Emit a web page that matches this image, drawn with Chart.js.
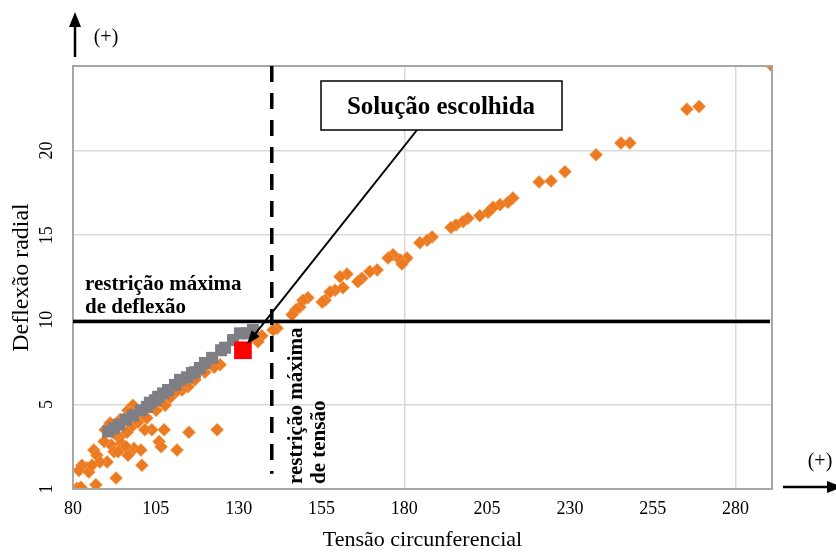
<!DOCTYPE html>
<html>
<head>
<meta charset="utf-8">
<script src="https://cdn.jsdelivr.net/npm/chart.js@4.4.1/dist/chart.umd.min.js"></script>
<style>
html, body { margin: 0; padding: 0; background: #fff; }
</style>
</head>
<body>
<canvas id="grafico" width="836" height="557"></canvas>
<script>
// soluções (losangos laranja)
var tensaoLaranja = [291, 265.3, 269, 245.4, 248.1, 237.9, 228.5, 220.7, 224.3, 212.8, 211.3, 208.9, 206.8, 205.3, 202.8, 199.2, 197.7, 195.6, 194.1, 188.4, 186.9, 184.7, 180.8, 178.7, 176.6, 175.1, 179.3, 171.8, 169.6, 167.2, 166.0, 162.7, 160.6, 159.1, 157.6, 161.5, 156.1, 155.2, 150.9, 149.4, 148.5, 147.3, 146.1, 141.6, 140.4, 137.0, 135.8,
    124.4, 122.6, 114.7, 112.9, 111.1, 107.8, 100.2, 100.8,
    123.5, 115.0, 111.4, 107.5, 103.8, 106.0, 106.6,
    97.5, 96.3, 93.9, 94.5, 91.5, 92.4, 89.4, 86.3, 87.2, 90.3, 84.2, 82.7, 81.8, 84.8, 81.2, 82.4, 86.9, 93.0, 100.8, 98.4, 100.5, 96.0, 92.4, 99.0, 94.2, 96.6, 98.1,
    89.7, 91.2, 95.7, 97.5, 99.6, 101.7, 93.6, 88.1, 85.7, 96.6, 102.3, 105.1, 109.3, 116.8, 119.8];
var deflexaoLaranja = [25, 22.45, 22.6, 20.45, 20.45, 19.75, 18.75, 18.15, 18.2, 17.2, 16.95, 16.8, 16.65, 16.35, 16.15, 16.0, 15.8, 15.6, 15.45, 14.9, 14.7, 14.55, 13.65, 13.55, 13.85, 13.65, 13.3, 12.95, 12.85, 12.45, 12.25, 12.7, 12.55, 11.75, 11.65, 11.9, 11.15, 11.05, 11.3, 11.15, 10.75, 10.6, 10.3, 9.5, 9.4, 9.05, 8.7,
    7.35, 7.2, 6.05, 5.85, 5.75, 4.95, 4.25, 4.35,
    3.5, 3.35, 2.3, 3.5, 3.5, 2.8, 2.5,
    3.65, 3.35, 3.05, 2.7, 2.6, 2.2, 2.8, 2.3, 2.0, 1.6, 1.25, 1.4, 1.1, 1.0, 0.05, 0.1, 0.25, 0.65, 1.4, 2.4, 2.3, 2.5, 3.3, 4.25, 4.1, 4.65, 4.95,
    3.5, 3.9, 4.2, 4.55, 3.95, 3.5, 2.2, 1.6, 1.4, 2.0, 4.2, 4.65, 5.4, 6.45, 6.9];

// soluções viáveis (quadrados cinza)
var tensaoCinza = [134.3, 132.5, 130.4, 128.3, 125.9, 124.7, 122.0, 119.8, 118.3, 116.8, 115.9, 114.4, 112.3, 110.8, 108.7, 107.2, 105.7, 104.8, 103.2, 102.3, 100.5, 98.1, 96.0, 93.9, 92.4, 90.6];
var deflexaoCinza = [9.4, 9.2, 9.2, 8.8, 8.35, 8.2, 7.75, 7.45, 7.15, 6.9, 6.85, 6.6, 6.45, 6.15, 5.85, 5.65, 5.45, 5.25, 5.1, 4.85, 4.65, 4.35, 4.1, 3.8, 3.6, 3.4];

// solução escolhida
var tensaoEscolhida = [131.3];
var deflexaoEscolhida = [8.2];

var xTicks = [80, 105, 130, 155, 180, 205, 230, 255, 280];
var xGrid = [180, 280];
var yTicks = [0, 5, 10, 15, 20];
var yTickLabels = ['1', '5', '10', '15', '20'];

var restricaoTensao = 140;
var restricaoDeflexao = 9.9;

function pares(xs, ys) {
    return xs.map(function (x, i) { return {x: x, y: ys[i]}; });
}

var serif = "'Liberation Serif', 'Times New Roman', serif";

function seta(ctx, x1, y1, x2, y2, comp, larg) {
    var a = Math.atan2(y2 - y1, x2 - x1);
    ctx.beginPath();
    ctx.moveTo(x1, y1);
    ctx.lineTo(x2 - Math.cos(a) * comp * 0.8, y2 - Math.sin(a) * comp * 0.8);
    ctx.stroke();
    ctx.beginPath();
    ctx.moveTo(x2, y2);
    ctx.lineTo(x2 - Math.cos(a) * comp - Math.sin(a) * larg / 2, y2 - Math.sin(a) * comp + Math.cos(a) * larg / 2);
    ctx.lineTo(x2 - Math.cos(a) * comp + Math.sin(a) * larg / 2, y2 - Math.sin(a) * comp - Math.cos(a) * larg / 2);
    ctx.closePath();
    ctx.fill();
}

var anotacoes = {
    id: 'anotacoes',
    afterDatasetsDraw: function (chart) {
        var ctx = chart.ctx;
        var area = chart.chartArea;
        var sx = chart.scales.x, sy = chart.scales.y;
        ctx.save();

        // moldura
        ctx.strokeStyle = '#a6a6a6';
        ctx.lineWidth = 2;
        ctx.strokeRect(area.left, area.top, area.right - area.left, area.bottom - area.top);

        // restrição de deflexão
        var yl = sy.getPixelForValue(restricaoDeflexao);
        ctx.strokeStyle = '#000';
        ctx.lineWidth = 3.5;
        ctx.beginPath();
        ctx.moveTo(area.left, yl);
        ctx.lineTo(area.right - 2, yl);
        ctx.stroke();

        // restrição de tensão
        var xl = sx.getPixelForValue(restricaoTensao);
        ctx.setLineDash([16, 11]);
        ctx.beginPath();
        ctx.moveTo(xl, area.top);
        ctx.lineTo(xl, sy.getPixelForValue(0.9));
        ctx.stroke();
        ctx.setLineDash([]);

        ctx.fillStyle = '#000';
        ctx.font = 'bold 21px ' + serif;
        ctx.textAlign = 'left';
        ctx.textBaseline = 'alphabetic';
        ctx.fillText('restrição máxima', area.left + 12, yl - 31);
        ctx.fillText('de deflexão', area.left + 12, yl - 8);

        ctx.save();
        ctx.translate(xl + 30, area.bottom - 5);
        ctx.rotate(-Math.PI / 2);
        ctx.fillText('restrição máxima', 0, 0);
        ctx.fillText('de tensão', 0, 23);
        ctx.restore();

        // caixa
        ctx.fillStyle = '#fff';
        ctx.fillRect(321, 81, 241, 49);
        ctx.strokeStyle = '#000';
        ctx.lineWidth = 1.5;
        ctx.strokeRect(321, 81, 241, 49);
        ctx.fillStyle = '#000';
        ctx.font = 'bold 25px ' + serif;
        ctx.textAlign = 'center';
        ctx.fillText('Solução escolhida', 441, 114);

        var px = sx.getPixelForValue(tensaoEscolhida[0]);
        var py = sy.getPixelForValue(deflexaoEscolhida[0]);
        ctx.lineWidth = 2;
        seta(ctx, 417, 130, px + 4, py - 6, 14, 10);

        ctx.restore();
    },
    afterDraw: function (chart) {
        var ctx = chart.ctx;
        var area = chart.chartArea;
        ctx.save();
        ctx.strokeStyle = '#000';
        ctx.fillStyle = '#000';
        ctx.lineWidth = 2.5;
        seta(ctx, area.left + 2, area.top - 9, area.left + 2, 12, 15, 12);
        seta(ctx, area.right + 11, area.bottom - 2, 842, area.bottom - 2, 15, 12);
        ctx.font = '20px ' + serif;
        ctx.textAlign = 'center';
        ctx.textBaseline = 'middle';
        ctx.fillText('(+)', 106, 38);
        ctx.fillText('(+)', 820, 462);
        ctx.restore();
    }
};

new Chart(document.getElementById('grafico').getContext('2d'), {
    type: 'scatter',
    data: {
        datasets: [
            {
                label: 'Solução escolhida',
                data: pares(tensaoEscolhida, deflexaoEscolhida),
                pointStyle: 'rect',
                pointRadius: 12.5,
                backgroundColor: '#ff0000',
                borderWidth: 0
            },
            {
                label: 'Viáveis',
                data: pares(tensaoCinza, deflexaoCinza),
                pointStyle: 'rect',
                pointRadius: 8.5,
                backgroundColor: '#7d7f84',
                borderWidth: 0
            },
            {
                label: 'Soluções',
                data: pares(tensaoLaranja, deflexaoLaranja),
                pointStyle: 'rectRot',
                pointRadius: 6.5,
                backgroundColor: '#ec7a22',
                borderColor: 'rgba(245, 160, 80, 0.6)',
                borderWidth: 1
            }
        ]
    },
    options: {
        responsive: false,
        animation: false,
        layout: { padding: { top: 66, right: 64, left: 0, bottom: 0 } },
        plugins: {
            legend: { display: false },
            tooltip: { enabled: false }
        },
        scales: {
            x: {
                type: 'linear',
                min: 80,
                max: 291,
                afterBuildTicks: function (scale) {
                    scale.ticks = xTicks.map(function (v) { return {value: v}; });
                },
                afterFit: function (scale) { scale.height = 68; },
                border: { display: false },
                grid: {
                    drawTicks: false,
                    color: function (c) {
                        return c.tick && xGrid.indexOf(c.tick.value) >= 0 ? '#d9d9d9' : 'rgba(0,0,0,0)';
                    },
                    lineWidth: 1.5
                },
                ticks: {
                    autoSkip: false,
                    maxRotation: 0,
                    padding: 9,
                    color: '#000',
                    font: { family: serif, size: 18 }
                },
                title: {
                    display: true,
                    text: 'Tensão circunferencial',
                    color: '#000',
                    font: { family: serif, size: 22 },
                    padding: { top: 0, bottom: 4 }
                }
            },
            y: {
                type: 'linear',
                min: 0,
                max: 25,
                afterBuildTicks: function (scale) {
                    scale.ticks = yTicks.map(function (v) { return {value: v}; });
                },
                afterFit: function (scale) { scale.width = 73; },
                border: { display: false },
                grid: {
                    drawTicks: false,
                    color: '#d9d9d9',
                    lineWidth: 1.5
                },
                ticks: {
                    autoSkip: false,
                    minRotation: 90,
                    maxRotation: 90,
                    crossAlign: 'center',
                    padding: 17,
                    color: '#000',
                    font: { family: serif, size: 18 },
                    callback: function (v) {
                        var i = yTicks.indexOf(v);
                        return i >= 0 ? yTickLabels[i] : '';
                    }
                },
                title: {
                    display: true,
                    text: 'Deflexão radial',
                    color: '#000',
                    font: { family: serif, size: 24 },
                    padding: { top: 7, bottom: 0 }
                }
            }
        }
    },
    plugins: [anotacoes]
});
</script>
</body>
</html>
